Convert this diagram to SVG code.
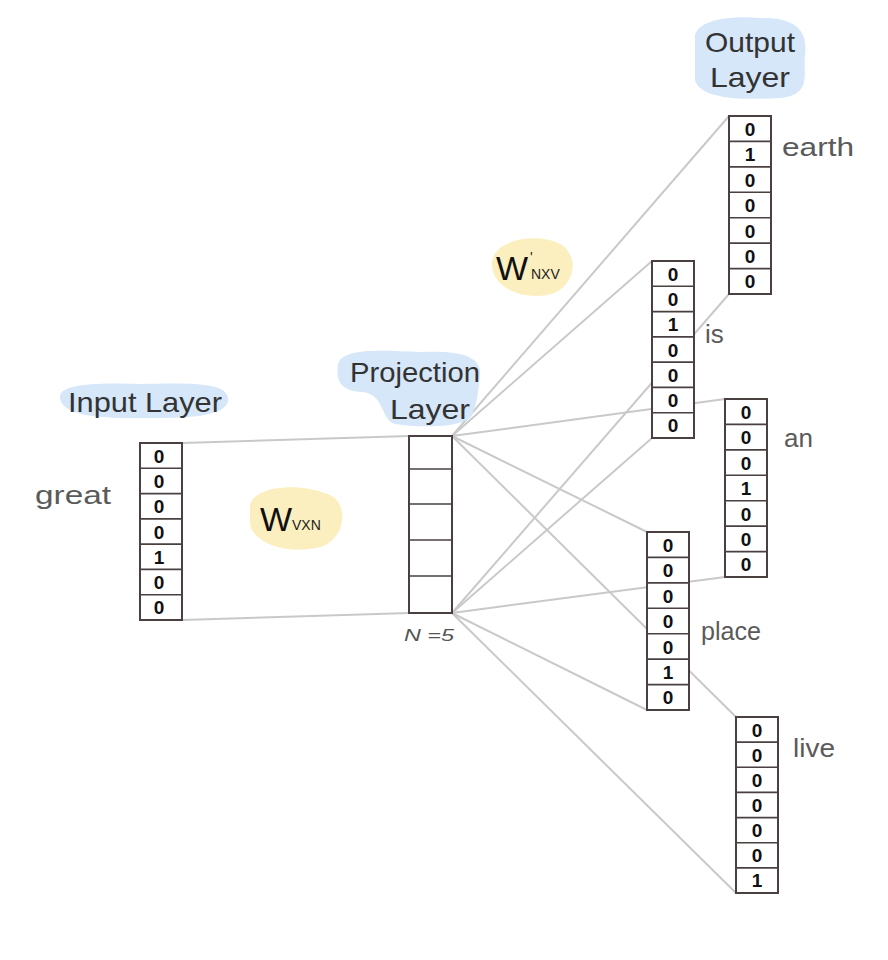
<svg xmlns="http://www.w3.org/2000/svg" width="888" height="960" viewBox="0 0 888 960">
<style>
.hl{fill:#d5e7f8}
.wy{fill:#fcefbf}
.title{font-family:"Liberation Sans",sans-serif;font-size:28px;fill:#333}
.word{font-family:"Liberation Sans",sans-serif;font-size:26px;fill:#5a5a5a}
.box{fill:#fff;stroke:#4a4040;stroke-width:2}
.div{stroke:#4a4040;stroke-width:1.6}
.dig{font-family:"Liberation Sans",sans-serif;font-size:19px;font-weight:bold;fill:#111;text-anchor:middle}
.conn line{stroke:#c9c9c9;stroke-width:2}
.w{font-family:"Liberation Sans",sans-serif;font-size:34px;fill:#111}
.sub{font-family:"Liberation Sans",sans-serif;font-size:14px;fill:#222}
</style>
<rect width="888" height="960" fill="#fff"/>
<g class="conn" id="connectors">
<line x1="182" y1="443" x2="409" y2="436"/>
<line x1="182" y1="620" x2="409" y2="613"/>
<line x1="452" y1="436" x2="729" y2="116"/>
<line x1="452" y1="436" x2="652" y2="261"/>
<line x1="452" y1="436" x2="725" y2="399"/>
<line x1="452" y1="436" x2="647" y2="532"/>
<line x1="452" y1="436" x2="736" y2="717"/>
<line x1="452" y1="613" x2="729" y2="294"/>
<line x1="452" y1="613" x2="652" y2="438"/>
<line x1="452" y1="613" x2="725" y2="577"/>
<line x1="452" y1="613" x2="647" y2="710"/>
<line x1="452" y1="613" x2="736" y2="893"/>
</g>
<g id="w-vxn">
<path class="wy" d="M250 505 C255 485 300 482 330 495 C350 505 345 540 320 547 C290 555 255 545 250 525 Z"/>
<text class="w" x="260" y="531">W</text>
<text class="sub" x="292" y="530">VXN</text>
</g>
<g id="w-nxv">
<path class="wy" d="M492 262 C495 238 540 232 562 245 C580 258 575 288 548 295 C518 300 490 285 492 262 Z"/>
<text class="w" x="496" y="280">W</text>
<text class="sub" x="530" y="262">'</text>
<text class="sub" x="531" y="279">NXV</text>
</g>
<g id="input-layer">
<path class="hl" d="M60 398 C58 385 90 382 140 384 C190 383 226 382 228 398 C230 414 200 419 140 418 C85 419 62 412 60 398 Z"/>
<text class="title" x="68" y="412" textLength="154" lengthAdjust="spacingAndGlyphs">Input Layer</text>
<text class="word" x="35" y="504" textLength="76" lengthAdjust="spacingAndGlyphs">great</text>
<rect class="box" x="140" y="443" width="42" height="177"/>
<line class="div" x1="140" y1="468.3" x2="182" y2="468.3"/>
<line class="div" x1="140" y1="493.6" x2="182" y2="493.6"/>
<line class="div" x1="140" y1="518.9" x2="182" y2="518.9"/>
<line class="div" x1="140" y1="544.1" x2="182" y2="544.1"/>
<line class="div" x1="140" y1="569.4" x2="182" y2="569.4"/>
<line class="div" x1="140" y1="594.7" x2="182" y2="594.7"/>
<text class="dig" x="159" y="463">0</text>
<text class="dig" x="159" y="488">0</text>
<text class="dig" x="159" y="513">0</text>
<text class="dig" x="159" y="539">0</text>
<text class="dig" x="159" y="564">1</text>
<text class="dig" x="159" y="589">0</text>
<text class="dig" x="159" y="614">0</text>
</g>
<g id="projection-layer">
<path class="hl" d="M338 365 C340 348 380 350 420 352 C460 350 482 356 480 375 C478 392 478 400 472 415 C466 428 420 428 395 424 C380 420 385 392 360 392 C340 390 336 380 338 365 Z"/>
<text class="title" x="350" y="382" textLength="130" lengthAdjust="spacingAndGlyphs">Projection</text>
<text class="title" x="390" y="419" textLength="80" lengthAdjust="spacingAndGlyphs">Layer</text>
<rect class="box" x="409" y="436" width="43" height="177"/>
<line class="div" x1="409" y1="469" x2="452" y2="469"/>
<line class="div" x1="409" y1="504" x2="452" y2="504"/>
<line class="div" x1="409" y1="540" x2="452" y2="540"/>
<line class="div" x1="409" y1="576" x2="452" y2="576"/>
<text x="404" y="641" font-family="Liberation Sans, sans-serif" font-size="16" font-style="italic" fill="#555" textLength="50" lengthAdjust="spacingAndGlyphs">N =5</text>
</g>
<g id="output-title">
<path class="hl" d="M695 40 C692 20 730 15 760 18 C795 17 808 30 805 55 C803 75 812 95 780 98 C745 100 700 100 695 80 Z"/>
<text class="title" x="705" y="52" textLength="90" lengthAdjust="spacingAndGlyphs">Output</text>
<text class="title" x="710" y="87" textLength="80" lengthAdjust="spacingAndGlyphs">Layer</text>
</g>
<g id="out-earth">
<text class="word" x="782" y="156" textLength="72" lengthAdjust="spacingAndGlyphs">earth</text>
<rect class="box" x="729" y="116" width="42" height="178"/>
<line class="div" x1="729" y1="141.4" x2="771" y2="141.4"/>
<line class="div" x1="729" y1="166.9" x2="771" y2="166.9"/>
<line class="div" x1="729" y1="192.3" x2="771" y2="192.3"/>
<line class="div" x1="729" y1="217.7" x2="771" y2="217.7"/>
<line class="div" x1="729" y1="243.1" x2="771" y2="243.1"/>
<line class="div" x1="729" y1="268.6" x2="771" y2="268.6"/>
<text class="dig" x="750" y="136">0</text>
<text class="dig" x="750" y="161">1</text>
<text class="dig" x="750" y="187">0</text>
<text class="dig" x="750" y="212">0</text>
<text class="dig" x="750" y="238">0</text>
<text class="dig" x="750" y="263">0</text>
<text class="dig" x="750" y="288">0</text>
</g>
<g id="out-is">
<text class="word" x="705" y="343">is</text>
<rect class="box" x="652" y="261" width="42" height="177"/>
<line class="div" x1="652" y1="286.3" x2="694" y2="286.3"/>
<line class="div" x1="652" y1="311.6" x2="694" y2="311.6"/>
<line class="div" x1="652" y1="336.9" x2="694" y2="336.9"/>
<line class="div" x1="652" y1="362.1" x2="694" y2="362.1"/>
<line class="div" x1="652" y1="387.4" x2="694" y2="387.4"/>
<line class="div" x1="652" y1="412.7" x2="694" y2="412.7"/>
<text class="dig" x="673" y="281">0</text>
<text class="dig" x="673" y="306">0</text>
<text class="dig" x="673" y="331">1</text>
<text class="dig" x="673" y="357">0</text>
<text class="dig" x="673" y="382">0</text>
<text class="dig" x="673" y="407">0</text>
<text class="dig" x="673" y="432">0</text>
</g>
<g id="out-an">
<text class="word" x="784" y="447">an</text>
<rect class="box" x="725" y="399" width="42" height="178"/>
<line class="div" x1="725" y1="424.4" x2="767" y2="424.4"/>
<line class="div" x1="725" y1="449.9" x2="767" y2="449.9"/>
<line class="div" x1="725" y1="475.3" x2="767" y2="475.3"/>
<line class="div" x1="725" y1="500.7" x2="767" y2="500.7"/>
<line class="div" x1="725" y1="526.1" x2="767" y2="526.1"/>
<line class="div" x1="725" y1="551.6" x2="767" y2="551.6"/>
<text class="dig" x="746" y="419">0</text>
<text class="dig" x="746" y="444">0</text>
<text class="dig" x="746" y="470">0</text>
<text class="dig" x="746" y="495">1</text>
<text class="dig" x="746" y="521">0</text>
<text class="dig" x="746" y="546">0</text>
<text class="dig" x="746" y="571">0</text>
</g>
<g id="out-place">
<text class="word" x="701" y="640" textLength="60" lengthAdjust="spacingAndGlyphs">place</text>
<rect class="box" x="647" y="532" width="42" height="178"/>
<line class="div" x1="647" y1="557.4" x2="689" y2="557.4"/>
<line class="div" x1="647" y1="582.9" x2="689" y2="582.9"/>
<line class="div" x1="647" y1="608.3" x2="689" y2="608.3"/>
<line class="div" x1="647" y1="633.7" x2="689" y2="633.7"/>
<line class="div" x1="647" y1="659.1" x2="689" y2="659.1"/>
<line class="div" x1="647" y1="684.6" x2="689" y2="684.6"/>
<text class="dig" x="668" y="552">0</text>
<text class="dig" x="668" y="577">0</text>
<text class="dig" x="668" y="603">0</text>
<text class="dig" x="668" y="628">0</text>
<text class="dig" x="668" y="654">0</text>
<text class="dig" x="668" y="679">1</text>
<text class="dig" x="668" y="704">0</text>
</g>
<g id="out-live">
<text class="word" x="793" y="757" textLength="42" lengthAdjust="spacingAndGlyphs">live</text>
<rect class="box" x="736" y="717" width="42" height="176"/>
<line class="div" x1="736" y1="742.1" x2="778" y2="742.1"/>
<line class="div" x1="736" y1="767.3" x2="778" y2="767.3"/>
<line class="div" x1="736" y1="792.4" x2="778" y2="792.4"/>
<line class="div" x1="736" y1="817.6" x2="778" y2="817.6"/>
<line class="div" x1="736" y1="842.7" x2="778" y2="842.7"/>
<line class="div" x1="736" y1="867.9" x2="778" y2="867.9"/>
<text class="dig" x="757" y="737">0</text>
<text class="dig" x="757" y="762">0</text>
<text class="dig" x="757" y="787">0</text>
<text class="dig" x="757" y="812">0</text>
<text class="dig" x="757" y="837">0</text>
<text class="dig" x="757" y="862">0</text>
<text class="dig" x="757" y="887">1</text>
</g>
</svg>
